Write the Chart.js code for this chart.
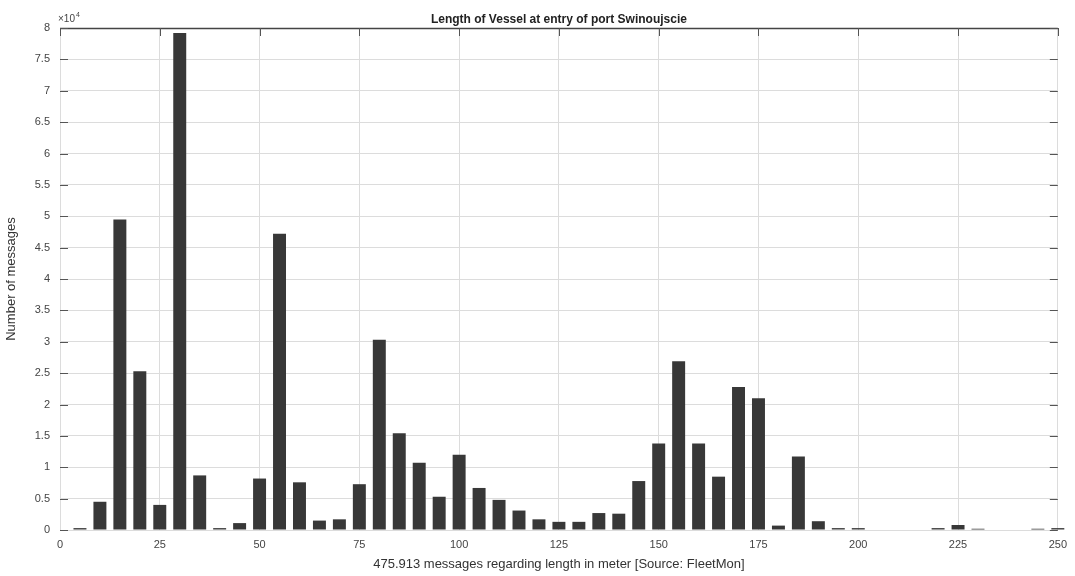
<!DOCTYPE html>
<html>
<head>
<meta charset="utf-8">
<script src="https://cdn.jsdelivr.net/npm/chart.js@4/dist/chart.umd.min.js"></script>
<style>
  html, body { margin: 0; padding: 0; background: #fff; }
  #wrap { width: 1075px; height: 576px; }
</style>
</head>
<body>
<div id="wrap"><canvas id="c" width="1075" height="576"></canvas></div>
<script>
// Vessel length bins (m)
const lengths = [5, 10, 15, 20, 25, 30, 35, 40, 45, 50, 55, 60, 65, 70, 75, 80, 85, 90, 95, 100,
                 105, 110, 115, 120, 125, 130, 135, 140, 145, 150, 155, 160, 165, 170, 175, 180, 185, 190, 195, 200,
                 205, 210, 215, 220, 225, 230, 235, 240, 245, 250];
// Number of messages in units of 10^4
const countsE4 = [0.03, 0.45, 4.95, 2.53, 0.40, 7.92, 0.87, 0.03, 0.11, 0.82, 4.72, 0.76, 0.15, 0.17, 0.73, 3.03, 1.54, 1.07, 0.53, 1.20,
                  0.67, 0.48, 0.31, 0.17, 0.13, 0.13, 0.27, 0.26, 0.78, 1.38, 2.69, 1.38, 0.85, 2.28, 2.10, 0.07, 1.17, 0.14, 0.03, 0.03,
                  0, 0, 0, 0.03, 0.08, 0.02, 0, 0, 0.02, 0.03];
const xTicks = [0, 25, 50, 75, 100, 125, 150, 175, 200, 225, 250];
const yTicks = [0, 0.5, 1, 1.5, 2, 2.5, 3, 3.5, 4, 4.5, 5, 5.5, 6, 6.5, 7, 7.5, 8];
const titleText = 'Length of Vessel at entry of port Swinoujscie';
const xTitle = '475.913 messages regarding length in meter [Source: FleetMon]';
const yTitle = 'Number of messages';
const exponentText = '×10';
const exponentSup = '4';

const FONT = '"Liberation Sans", Arial, sans-serif';

const points = lengths.map((x, i) => ({ x: x, y: countsE4[i] }));

const decor = {
  id: 'decor',
  afterDraw(chart) {
    const ctx = chart.ctx;
    const a = chart.chartArea;
    ctx.save();
    // top frame line
    ctx.strokeStyle = '#444';
    ctx.lineWidth = 1.5;
    ctx.beginPath();
    ctx.moveTo(a.left, a.top + 0.5);
    ctx.lineTo(a.right, a.top + 0.5);
    ctx.stroke();
    // title
    ctx.fillStyle = '#222';
    ctx.font = 'bold 12px ' + FONT;
    ctx.textAlign = 'center';
    ctx.textBaseline = 'alphabetic';
    ctx.fillText(titleText, (a.left + a.right) / 2, a.top - 5);
    // exponent
    ctx.font = '10px ' + FONT;
    ctx.textAlign = 'left';
    ctx.fillStyle = '#444';
    ctx.fillText(exponentText, a.left - 2, a.top - 6);
    const w = ctx.measureText(exponentText).width;
    ctx.font = '7px ' + FONT;
    ctx.fillText(exponentSup, a.left - 2 + w + 1, a.top - 11);
    // tick marks inside (left and right)
    const ys = chart.scales.y;
    ctx.strokeStyle = '#555';
    ctx.lineWidth = 1;
    yTicks.forEach(v => {
      const py = Math.round(ys.getPixelForValue(v)) + 0.5;
      ctx.beginPath();
      ctx.moveTo(a.left, py); ctx.lineTo(a.left + 8, py);
      ctx.moveTo(a.right, py); ctx.lineTo(a.right - 8, py);
      ctx.stroke();
    });
    const xs = chart.scales.x;
    xTicks.forEach(v => {
      const px = Math.round(xs.getPixelForValue(v)) + 0.5;
      ctx.beginPath();
      ctx.moveTo(px, a.top); ctx.lineTo(px, a.top + 8);
      ctx.stroke();
    });
    ctx.restore();
  }
};

new Chart(document.getElementById('c'), {
  type: 'bar',
  data: {
    datasets: [{
      data: points,
      backgroundColor: '#383838',
      borderColor: '#383838',
      borderWidth: 0,
      barPercentage: 0.65,
      categoryPercentage: 1.0,
      clip: false
    }]
  },
  options: {
    responsive: false,
    animation: false,
    devicePixelRatio: 1,
    layout: { padding: { top: 28, right: 17, left: 0, bottom: 0 } },
    plugins: {
      legend: { display: false },
      tooltip: { enabled: false },
      title: { display: false }
    },
    scales: {
      x: {
        type: 'linear',
        offset: false,
        min: 0,
        max: 250,
        afterBuildTicks: s => { s.ticks = xTicks.map(v => ({ value: v })); },
        afterFit: s => { s.height = 46; },
        grid: { color: '#dcdcdc', lineWidth: 1, drawTicks: false, offset: false },
        border: { display: false },
        ticks: {
          padding: 8,
          maxRotation: 0,
          autoSkip: false,
          color: '#444',
          font: { family: FONT, size: 11 }
        },
        title: {
          display: true,
          text: xTitle,
          color: '#333',
          font: { family: FONT, size: 13 },
          padding: { top: 2, bottom: 4 }
        }
      },
      y: {
        min: 0,
        max: 8,
        afterBuildTicks: s => { s.ticks = yTicks.map(v => ({ value: v })); },
        afterFit: s => { s.width = 60; },
        grid: { color: '#dcdcdc', lineWidth: 1, drawTicks: false },
        border: { display: false },
        ticks: {
          padding: 10,
          autoSkip: false,
          color: '#444',
          font: { family: FONT, size: 11 },
          callback: v => String(v)
        },
        title: {
          display: true,
          text: yTitle,
          color: '#333',
          font: { family: FONT, size: 13 },
          padding: { top: 4, bottom: 2 }
        }
      }
    }
  },
  plugins: [decor]
});
</script>
</body>
</html>
